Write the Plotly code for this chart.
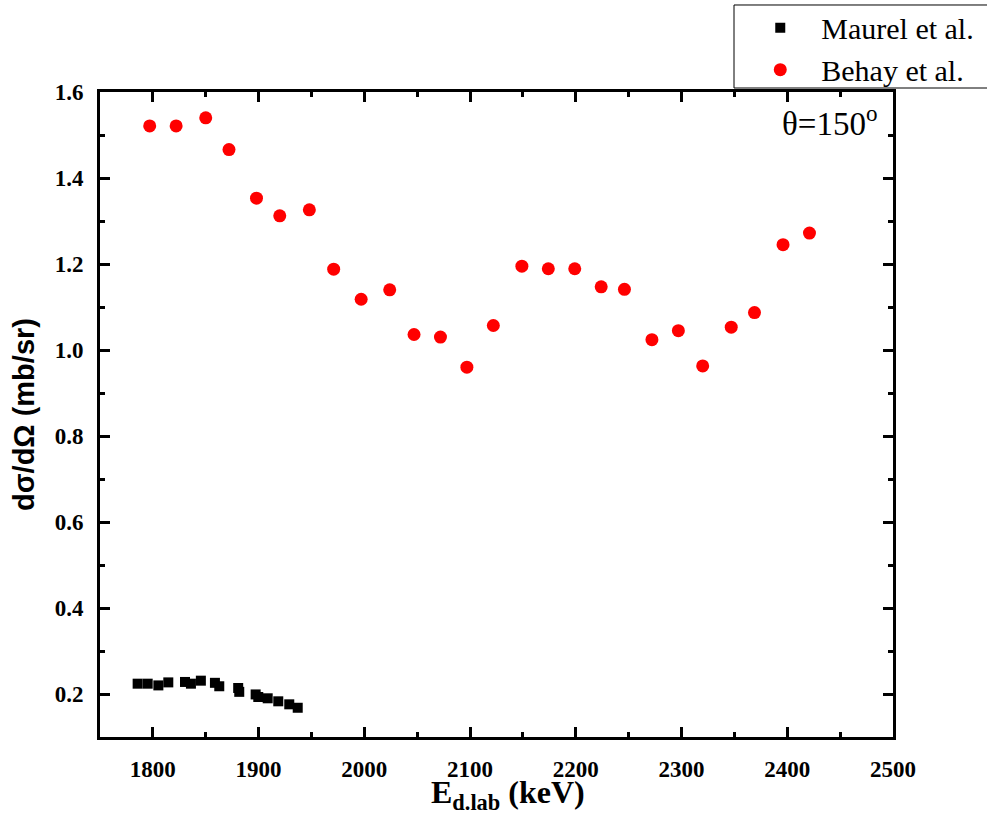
import plotly.graph_objects as go

# Maurel et al. (black squares)
maurel_E = [1785.6, 1795.1, 1805.2, 1814.6, 1830.4, 1836.0, 1845.4, 1858.7, 1862.8,
            1880.7, 1881.7, 1897.2, 1899.7, 1908.6, 1918.6, 1929.0, 1937.0]
maurel_xs = [0.224, 0.224, 0.220, 0.227, 0.228, 0.224, 0.231, 0.226, 0.218,
             0.214, 0.205, 0.199, 0.193, 0.190, 0.183, 0.176, 0.168]

# Behay et al. (red circles)
behay_E = [1797, 1822, 1850, 1872, 1898, 1920, 1948, 1971, 1997, 2024, 2047, 2072, 2097,
           2122, 2149, 2174, 2199, 2224, 2246, 2272, 2297, 2320, 2347, 2369, 2396, 2421]
behay_xs = [1.521, 1.521, 1.540, 1.466, 1.353, 1.312, 1.326, 1.188, 1.118, 1.140, 1.036,
            1.030, 0.960, 1.057, 1.195, 1.189, 1.189, 1.147, 1.141, 1.024, 1.045, 0.963,
            1.053, 1.087, 1.245, 1.272]

x_ticks = [1800, 1900, 2000, 2100, 2200, 2300, 2400, 2500]
y_ticks = [0.2, 0.4, 0.6, 0.8, 1.0, 1.2, 1.4, 1.6]

fig = go.Figure()
fig.add_trace(go.Scatter(x=maurel_E, y=maurel_xs, mode="markers", name="Maurel et al.",
                         marker=dict(symbol="square", size=10, color="black")))
fig.add_trace(go.Scatter(x=behay_E, y=behay_xs, mode="markers", name="Behay et al.",
                         marker=dict(symbol="circle", size=13, color="#ff0000")))

tickfont = dict(family="Liberation Serif", size=23, color="black", weight="bold")
axis_common = dict(showline=True, linecolor="black", linewidth=3, mirror="allticks",
                   ticks="inside", ticklen=10, tickwidth=3, tickcolor="black",
                   showgrid=False, zeroline=False, tickfont=tickfont,
                   ticklabelstandoff=9, automargin=False,
                   minor=dict(ticks="inside", ticklen=5, tickwidth=3, tickcolor="black",
                              showgrid=False))

fig.update_xaxes(range=[1750, 2500], tickvals=x_ticks, ticktext=[str(v) for v in x_ticks],
                 minor_dtick=50, **axis_common)
fig.update_yaxes(range=[0.1, 1.6], tickvals=y_ticks, ticktext=[f"{v:.1f}" for v in y_ticks],
                 minor_dtick=0.1,
                 title=dict(text="dσ/dΩ (mb/sr)",
                            font=dict(family="Liberation Sans", size=29, color="black",
                                      weight="bold"), standoff=12),
                 **axis_common)

# x-axis title
fig.add_annotation(text="E<sub>d.lab</sub> (keV)", xref="paper", yref="paper",
                   x=0.515, y=-0.056, xanchor="center", yanchor="top", showarrow=False,
                   borderpad=0,
                   font=dict(family="Liberation Serif", size=32, color="black", weight="bold"))

fig.add_annotation(text="θ=150<sup>o</sup>", xref="paper", yref="paper",
                   x=0.982, y=0.99, xanchor="right", yanchor="top", showarrow=False,
                   font=dict(family="Liberation Serif", size=33, color="black"))

# legend frame
fig.add_shape(type="rect", xref="paper", yref="paper",
              x0=0.7995, x1=1.13, y0=1.0062, y1=1.1349,
              line=dict(color="black", width=1), fillcolor="white", layer="below")

fig.update_layout(
    width=987, height=816,
    margin=dict(l=100, r=94, t=92, b=79, autoexpand=False),
    paper_bgcolor="white", plot_bgcolor="white",
    showlegend=True,
    legend=dict(xref="container", yref="container", x=0.749, y=0.998,
                xanchor="left", yanchor="top",
                bgcolor="rgba(0,0,0,0)", borderwidth=0,
                font=dict(family="Liberation Serif", size=30, color="black"),
                itemwidth=72, tracegroupgap=0),
)

fig.write_html("out.html")
